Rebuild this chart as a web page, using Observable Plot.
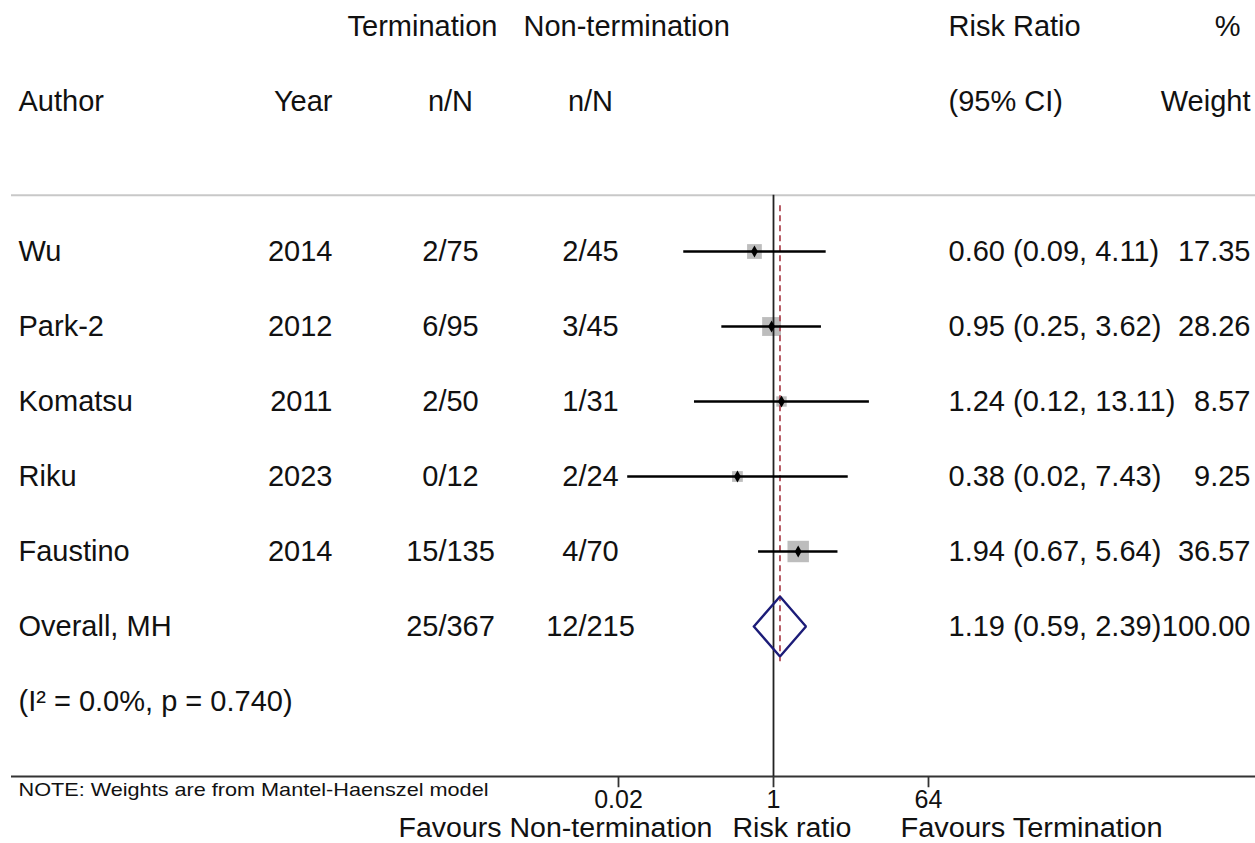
<!DOCTYPE html>
<html>
<head>
<meta charset="utf-8">
<script src="https://cdn.jsdelivr.net/npm/d3@7"></script>
<script src="https://cdn.jsdelivr.net/npm/@observablehq/plot@0.6"></script>
<style>
  body { margin: 0; background: #fff; }
</style>
</head>
<body>
<div id="chart"></div>
<script>
// ---------- data ----------
const authors   = ["Wu", "Park-2", "Komatsu", "Riku", "Faustino"];
const years     = [2014, 2012, 2011, 2023, 2014];
const termNN    = ["2/75", "6/95", "2/50", "0/12", "15/135"];
const nontermNN = ["2/45", "3/45", "1/31", "2/24", "4/70"];
const riskRatio = [0.60, 0.95, 1.24, 0.38, 1.94];
const ciLow     = [0.09, 0.25, 0.12, 0.02, 0.67];
const ciHigh    = [4.11, 3.62, 13.11, 7.43, 5.64];
const weights   = [17.35, 28.26, 8.57, 9.25, 36.57];

const overallLabel   = "Overall, MH";
const overallTerm    = "25/367";
const overallNonterm = "12/215";
const overallRR      = 1.19;
const overallLow     = 0.59;
const overallHigh    = 2.39;
const overallWeight  = 100.00;
const heterogeneity  = "(I\u00B2 = 0.0%, p = 0.740)";

const headerTop    = ["Termination", "Non-termination", "Risk Ratio", "%"];
const headerBottom = ["Author", "Year", "n/N", "n/N", "(95% CI)", "Weight"];
const noteText     = "NOTE: Weights are from Mantel-Haenszel model";
const axisTitles   = ["Favours Non-termination", "Risk ratio", "Favours Termination"];

const tickValues = [1 / 64, 1, 64];
const tickLabels = ["0.02", "1", "64"];

// ---------- tables built from the arrays ----------
const studies = authors.map((a, i) => ({
  row: i + 1, author: a, year: String(years[i]), term: termNN[i], nonterm: nontermNN[i],
  rr: riskRatio[i], lo: ciLow[i], hi: ciHigh[i], weight: weights[i]
}));
const overall = {
  row: studies.length + 1, author: overallLabel, year: "", term: overallTerm, nonterm: overallNonterm,
  rr: overallRR, lo: overallLow, hi: overallHigh, weight: overallWeight
};
const allRows = [...studies, overall];
const hetRow = [{row: overall.row + 1, text: heterogeneity}];
const ciText = d => `${d.rr.toFixed(2)} (${d.lo.toFixed(2)}, ${d.hi.toFixed(2)})`;
const wText = d => d.weight.toFixed(2);

const dh = 0.4; // diamond half-height in rows
const diamond = [
  {x: overall.lo, y: overall.row},
  {x: overall.rr, y: overall.row - dh},
  {x: overall.hi, y: overall.row},
  {x: overall.rr, y: overall.row + dh},
  {x: overall.lo, y: overall.row}
];

const topRow = -2, subRow = -1, sepRow = 0.25, axisRow = 8, tickLen = 0.15;

// ---------- style ----------
const FONT = "Liberation Sans, Arial, Helvetica, sans-serif";
const FS = 29;
const INK = "#111";

const txt = (data, opts) => Plot.text(data, {fontSize: FS, fill: INK, lineAnchor: "middle", ...opts});

const chart = Plot.plot({
  width: 1255,
  height: 843,
  marginLeft: 11,
  marginRight: 0,
  marginTop: 0,
  marginBottom: 67,
  style: {fontFamily: FONT, background: "#fff"},
  x: {type: "log", domain: [1 / 64, 64], range: [618, 928], axis: null},
  y: {type: "linear", domain: [topRow, axisRow], range: [26, 776], axis: null},
  r: {type: "sqrt", domain: [0, 100], range: [0, 20]},
  marks: [
    // separators
    Plot.ruleY([sepRow], {stroke: "#c8c8c8", strokeWidth: 2}),
    Plot.ruleY([axisRow], {stroke: "#333", strokeWidth: 2}),
    // weight squares
    Plot.dot(studies, {x: "rr", y: "row", r: "weight", symbol: "square", fill: "#bdbdbd", stroke: "none"}),
    // null line and overall line
    Plot.ruleX([1], {y1: sepRow, y2: axisRow, stroke: "#222", strokeWidth: 1.8}),
    Plot.ruleX([overall.rr], {y1: 0.39, y2: overall.row + 0.48, stroke: "#b04a55", strokeWidth: 1.8, strokeDasharray: "6,4"}),
    // CIs
    Plot.ruleY(studies, {x1: "lo", x2: "hi", y: "row", stroke: "#000", strokeWidth: 2.6}),
    Plot.dot(studies, {x: "rr", y: "row", r: 3.6, symbol: "diamond", fill: "#000", stroke: "none"}),
    // overall diamond
    Plot.line(diamond, {x: "x", y: "y", stroke: "#1c1c78", strokeWidth: 2.4, strokeLinejoin: "miter"}),

    // headers
    txt([headerTop[0]], {y: () => topRow, text: d => d, frameAnchor: "left", dx: 336}),
    txt([headerTop[1]], {y: () => topRow, text: d => d, frameAnchor: "left", dx: 512}),
    txt([headerTop[2]], {y: () => topRow, text: d => d, frameAnchor: "left", dx: 937}),
    txt([headerTop[3]], {y: () => topRow, text: d => d, frameAnchor: "right", textAnchor: "end", dx: -15}),
    txt([headerBottom[0]], {y: () => subRow, text: d => d, frameAnchor: "left", dx: 7}),
    txt([headerBottom[1]], {y: () => subRow, text: d => d, frameAnchor: "left", textAnchor: "end", dx: 321}),
    txt([headerBottom[2]], {y: () => subRow, text: d => d, frameAnchor: "left", textAnchor: "middle", dx: 439}),
    txt([headerBottom[3]], {y: () => subRow, text: d => d, frameAnchor: "left", textAnchor: "middle", dx: 579}),
    txt([headerBottom[4]], {y: () => subRow, text: d => d, frameAnchor: "left", dx: 937}),
    txt([headerBottom[5]], {y: () => subRow, text: d => d, frameAnchor: "right", textAnchor: "end", dx: -5}),

    // table columns
    txt(allRows, {y: "row", text: "author", frameAnchor: "left", dx: 7}),
    txt(allRows, {y: "row", text: "year", frameAnchor: "left", textAnchor: "end", dx: 321}),
    txt(allRows, {y: "row", text: "term", frameAnchor: "left", textAnchor: "middle", dx: 439}),
    txt(allRows, {y: "row", text: "nonterm", frameAnchor: "left", textAnchor: "middle", dx: 579}),
    txt(allRows, {y: "row", text: ciText, frameAnchor: "left", dx: 937}),
    txt(allRows, {y: "row", text: wText, frameAnchor: "right", textAnchor: "end", dx: -5}),
    txt(hetRow, {y: "row", text: "text", frameAnchor: "left", dx: 7}),

    // x axis ticks and labels
    Plot.ruleX(tickValues, {x: d => d, y1: axisRow, y2: axisRow + tickLen, stroke: "#333", strokeWidth: 1.8}),
    Plot.text(tickValues, {x: d => d, text: (d, i) => tickLabels[i], frameAnchor: "bottom", lineAnchor: "middle",
                           dy: 23, fontSize: 25, fill: INK, className: "tick-label"}),

    // footer texts
    Plot.text([noteText], {text: d => d, frameAnchor: "bottom-left", lineAnchor: "middle", dx: 7, dy: 13,
                           fontSize: 19, fill: INK, className: "note-text"}),
    txt([axisTitles[0]], {text: d => d, frameAnchor: "bottom-left", textAnchor: "end", dx: 701, dy: 52, fontSize: 27, className: "title-0"}),
    txt([axisTitles[1]], {text: d => d, frameAnchor: "bottom-left", textAnchor: "start", dx: 721, dy: 52, fontSize: 27, className: "title-1"}),
    txt([axisTitles[2]], {text: d => d, frameAnchor: "bottom-left", textAnchor: "start", dx: 889, dy: 52, fontSize: 27, className: "title-2"})
  ]
});

// horizontal stretch of the narrow footer texts, as in the reference
const stretch = (sel, len) => chart.querySelectorAll(sel + " text").forEach(t => {
  t.setAttribute("textLength", len);
  t.setAttribute("lengthAdjust", "spacingAndGlyphs");
});
stretch(".note-text", 470);
stretch(".title-0", 314);
stretch(".title-1", 119);
stretch(".title-2", 262);

document.getElementById("chart").appendChild(chart);
</script>
</body>
</html>
